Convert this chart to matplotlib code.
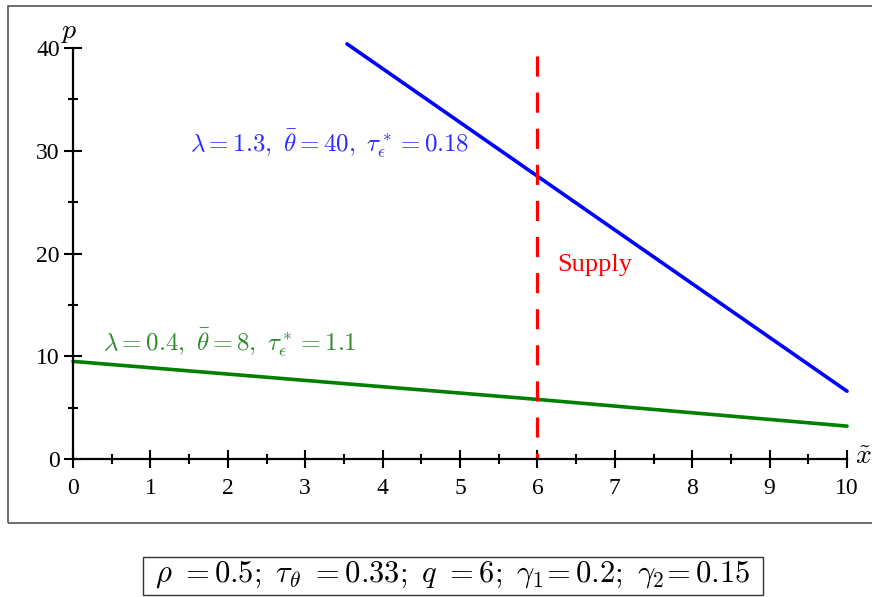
import matplotlib
matplotlib.use("Agg")
import matplotlib.pyplot as plt
from matplotlib.ticker import MultipleLocator
from matplotlib.patches import Rectangle

plt.rcParams['font.family'] = 'serif'
plt.rcParams['font.serif'] = ['Liberation Serif', 'DejaVu Serif']
plt.rcParams['mathtext.fontset'] = 'cm'

# data
blue_x = [3.54, 10]
blue_p = [40.4, 6.6]
green_x = [0, 6, 10]
green_p = [9.5, 5.8, 3.2]
supply_x = [6, 6]
supply_p = [39.2, 0]

blue_label = r'$\lambda = 1.3,\ \bar{\theta} = 40,\ \tau^*_\epsilon = 0.18$'
green_label = r'$\lambda = 0.4,\ \bar{\theta} = 8,\ \tau^*_\epsilon = 1.1$'
caption = r'$\rho\ = 0.5;\ \tau_\theta\ = 0.33;\ q\ = 6;\ \gamma_1\!= 0.2;\ \gamma_2\!= 0.15$'

W, H = 872, 597
fig = plt.figure(figsize=(W / 100, H / 100), dpi=100)
ax = fig.add_axes([73 / W, (H - 459) / H, (847 - 73) / W, (459 - 48) / H])

ax.plot(blue_x, blue_p, color='#0000ff', lw=2.6, clip_on=False, solid_capstyle='round')
ax.plot(green_x, green_p, color='#008000', lw=2.6, clip_on=False, solid_capstyle='round')
ax.plot(supply_x, supply_p, color='#ff0000', lw=2.3, dashes=(6.3, 5.0), clip_on=False)

ax.text(3.32, 30.75, blue_label, color='#2a2aff', fontsize=18, ha='center', va='center')
ax.text(2.03, 11.4, green_label, color='#2e8b2e', fontsize=18, ha='center', va='center')
ax.text(6.25, 18.9, 'Supply', color='#ff0000', fontsize=19, ha='left', va='center')

ax.set_xlim(0, 10)
ax.set_ylim(0, 40)
for s in ['top', 'right']:
    ax.spines[s].set_visible(False)
for s in ['left', 'bottom']:
    ax.spines[s].set_linewidth(1.6)
ax.xaxis.set_major_locator(MultipleLocator(1))
ax.xaxis.set_minor_locator(MultipleLocator(0.5))
ax.yaxis.set_major_locator(MultipleLocator(10))
ax.yaxis.set_minor_locator(MultipleLocator(5))
ax.tick_params(which='major', direction='inout', length=13, width=1.5, labelsize=17)
ax.tick_params(axis='x', which='major', pad=7)
ax.tick_params(axis='y', which='major', pad=3)
ax.tick_params(which='minor', direction='inout', length=7, width=1.5)

ax.text(-0.05, 41.5, r'$p$', fontsize=20, ha='center', va='center')
ax.text(10.1, 0.1, r'$\tilde{x}$', fontsize=20, ha='left', va='center')

# outer frame
fig.patches.append(Rectangle((8 / W, (H - 523) / H), (W - 8) / W + 0.01, (523 - 6) / H,
                             transform=fig.transFigure, fill=False, edgecolor='#555555', lw=1.2))

# caption box
fig.patches.append(Rectangle((143 / W, (H - 595) / H), (763 - 143) / W, (595 - 557) / H,
                             transform=fig.transFigure, fill=False, edgecolor='#333333', lw=1.0))
fig.text(453 / W, 1 - 575 / H, caption, fontsize=22, ha='center', va='center')

fig.savefig('out.png', dpi=100)
